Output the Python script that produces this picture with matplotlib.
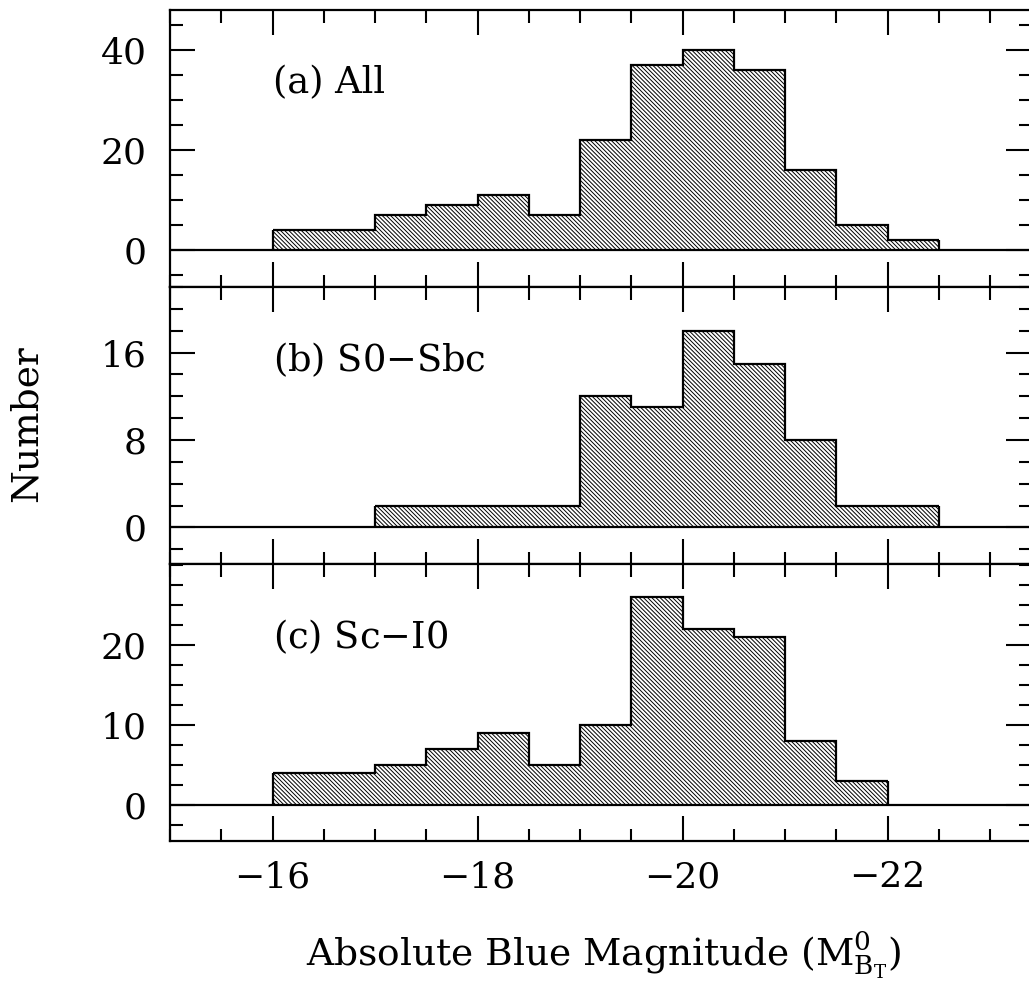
import numpy as np
import matplotlib
matplotlib.use("Agg")
import matplotlib.pyplot as plt
from matplotlib.ticker import MultipleLocator, FixedLocator

plt.rcParams['font.family'] = 'DejaVu Serif'
plt.rcParams['mathtext.fontset'] = 'dejavuserif'
plt.rcParams['hatch.linewidth'] = 0.7
plt.rcParams['axes.unicode_minus'] = True

# bin edges (absolute blue magnitude), 0.5 mag bins
edges = np.arange(-16.0, -22.51, -0.5)
counts_all = [4, 4, 7, 9, 11, 7, 22, 37, 40, 36, 16, 5, 2]
counts_early = [0, 0, 2, 2, 2, 2, 12, 11, 18, 15, 8, 2, 2]
counts_late = [4, 4, 5, 7, 9, 5, 10, 26, 22, 21, 8, 3, 0]

labels = ['(a) All', '(b) S0$-$Sbc', '(c) Sc$-$I0']
ylims = [(-7.4, 48), (-3.34, 22), (-4.5, 30.1)]
yticks = [[0, 20, 40], [0, 8, 16], [0, 10, 20]]
yminor = [5, 2, 2.5]

W, H = 1029, 988
fig = plt.figure(figsize=(W / 100, H / 100), dpi=100)

left = 170 / W
width = 861 / W
ph = 277 / H
bottoms = [1 - 287 / H, 1 - 564 / H, 1 - 841 / H]

for i, counts in enumerate([counts_all, counts_early, counts_late]):
    ax = fig.add_axes([left, bottoms[i], width, ph])
    c = np.array(counts)
    # drop empty bins at the ends
    nz = np.nonzero(c)[0]
    lo, hi = nz[0], nz[-1] + 1
    e = edges[lo:hi + 1]
    v = c[lo:hi]
    ax.stairs(v, e, fill=True, facecolor='white', edgecolor='black',
              hatch='\\' * 8, linewidth=0)
    ax.stairs(v, e, baseline=None, color='black', linewidth=1.6)
    ax.vlines([e[0], e[-1]], 0, [v[0], v[-1]], color='black', linewidth=1.6)
    ax.axhline(0, color='black', linewidth=1.6)

    ax.set_xlim(-15, -23.4)
    ax.set_ylim(*ylims[i])
    ax.xaxis.set_major_locator(MultipleLocator(2))
    ax.xaxis.set_minor_locator(MultipleLocator(0.5))
    ax.yaxis.set_major_locator(FixedLocator(yticks[i]))
    ax.yaxis.set_minor_locator(MultipleLocator(yminor[i]))
    ax.tick_params(which='both', direction='in', top=True, right=True,
                   width=1.5, labelsize=26)
    ax.tick_params(axis='y', pad=17)
    ax.tick_params(axis='x', pad=14)
    ax.tick_params(which='major', length=18)
    ax.tick_params(which='minor', length=9)
    for s in ax.spines.values():
        s.set_linewidth(1.6)
    if i < 2:
        ax.tick_params(labelbottom=False)
    ax.text(0.12, 0.736, labels[i], transform=ax.transAxes, fontsize=26.5,
            ha='left', va='center')

fig.text(27 / W, 1 - 424 / H, 'Number', rotation=90, fontsize=27,
         ha='center', va='center')
fig.text(604 / W, 1 - 955 / H,
         r'Absolute Blue Magnitude (M$^{\mathrm{0}}_{\mathrm{B_T}}$)',
         fontsize=27, ha='center', va='center')

fig.savefig('out.png', dpi=100)
